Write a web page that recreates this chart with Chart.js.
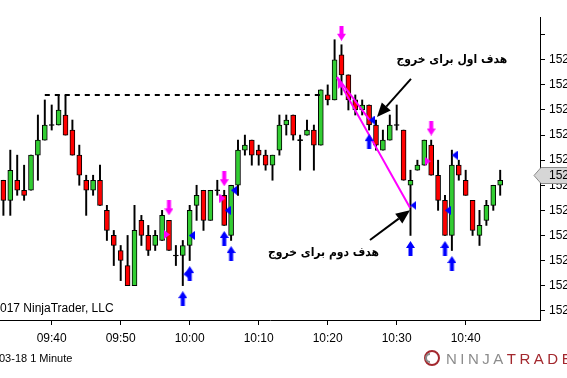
<!DOCTYPE html>
<html>
<head>
<meta charset="utf-8">
<script src="https://cdn.jsdelivr.net/npm/chart.js@4.4.0/dist/chart.umd.min.js"></script>
<style>
    html, body { margin: 0; padding: 0; background: #fff; overflow: hidden; }
    #chart-wrap { width: 567px; height: 378px; }
</style>
</head>
<body>
<div id="chart-wrap"><canvas id="price-chart" width="567" height="378"></canvas></div>
<script>
// one candle per minute, 09:33 -> 10:45
const times = ['09:33', '09:34', '09:35', '09:36', '09:37', '09:38', '09:39', '09:40', '09:41', '09:42',
    '09:43', '09:44', '09:45', '09:46', '09:47', '09:48', '09:49', '09:50', '09:51', '09:52',
    '09:53', '09:54', '09:55', '09:56', '09:57', '09:58', '09:59', '10:00', '10:01', '10:02',
    '10:03', '10:04', '10:05', '10:06', '10:07', '10:08', '10:09', '10:10', '10:11', '10:12',
    '10:13', '10:14', '10:15', '10:16', '10:17', '10:18', '10:19', '10:20', '10:21', '10:22',
    '10:23', '10:24', '10:25', '10:26', '10:27', '10:28', '10:29', '10:30', '10:31', '10:32',
    '10:33', '10:34', '10:35', '10:36', '10:37', '10:38', '10:39', '10:40', '10:41', '10:42',
    '10:43', '10:44', '10:45'];

const opens = [152.26, 152.22, 152.26, 152.24, 152.24, 152.31, 152.34, 152.37, 152.37, 152.39,
    152.36, 152.31, 152.26, 152.24, 152.26, 152.20, 152.15, 152.12, 152.09, 152.05,
    152.18, 152.15, 152.13, 152.14, 152.18, 152.11, 152.11, 152.13, 152.21, 152.24,
    152.18, 152.24, 152.23, 152.15, 152.25, 152.32, 152.34, 152.32, 152.31, 152.29,
    152.32, 152.37, 152.39, 152.34, 152.35, 152.36, 152.33, 152.43, 152.42, 152.51,
    152.47, 152.42, 152.40, 152.41, 152.37, 152.32, 152.34, 152.37, 152.36, 152.25,
    152.28, 152.29, 152.33, 152.27, 152.22, 152.15, 152.29, 152.26, 152.22, 152.15,
    152.18, 152.21, 152.25];
const highs = [152.26, 152.32, 152.31, 152.29, 152.31, 152.39, 152.42, 152.41, 152.43, 152.43,
    152.38, 152.33, 152.27, 152.27, 152.29, 152.21, 152.16, 152.13, 152.15, 152.21,
    152.19, 152.17, 152.16, 152.20, 152.18, 152.13, 152.14, 152.21, 152.25, 152.24,
    152.24, 152.26, 152.24, 152.25, 152.34, 152.35, 152.34, 152.33, 152.32, 152.31,
    152.39, 152.39, 152.39, 152.35, 152.38, 152.37, 152.44, 152.45, 152.54, 152.53,
    152.47, 152.43, 152.42, 152.41, 152.38, 152.36, 152.39, 152.41, 152.36, 152.28,
    152.30, 152.34, 152.34, 152.30, 152.23, 152.32, 152.30, 152.28, 152.22, 152.20,
    152.22, 152.25, 152.28];
const lows = [152.19, 152.19, 152.23, 152.22, 152.24, 152.26, 152.34, 152.36, 152.37, 152.35,
    152.31, 152.25, 152.19, 152.23, 152.21, 152.14, 152.09, 152.06, 152.05, 152.05,
    152.13, 152.11, 152.12, 152.14, 152.12, 152.09, 152.05, 152.10, 152.18, 152.16,
    152.18, 152.23, 152.17, 152.14, 152.23, 152.31, 152.29, 152.29, 152.28, 152.26,
    152.31, 152.35, 152.34, 152.28, 152.35, 152.28, 152.33, 152.41, 152.42, 152.43,
    152.40, 152.39, 152.39, 152.36, 152.32, 152.32, 152.34, 152.36, 152.26, 152.15,
    152.28, 152.29, 152.27, 152.20, 152.15, 152.12, 152.26, 152.23, 152.15, 152.13,
    152.17, 152.20, 152.23];
const closes = [152.22, 152.28, 152.24, 152.23, 152.31, 152.34, 152.37, 152.37, 152.40, 152.35,
    152.31, 152.27, 152.24, 152.26, 152.21, 152.16, 152.13, 152.10, 152.05, 152.16,
    152.15, 152.12, 152.15, 152.19, 152.12, 152.11, 152.13, 152.20, 152.23, 152.18,
    152.24, 152.24, 152.17, 152.25, 152.32, 152.33, 152.31, 152.31, 152.29, 152.31,
    152.37, 152.38, 152.35, 152.34, 152.36, 152.33, 152.44, 152.42, 152.50, 152.47,
    152.42, 152.40, 152.41, 152.37, 152.33, 152.34, 152.37, 152.37, 152.26, 152.26,
    152.29, 152.34, 152.27, 152.22, 152.15, 152.29, 152.27, 152.23, 152.16, 152.17,
    152.21, 152.25, 152.26];
const last_price = 152.27;

const x_tick_labels = ['09:40', '09:50', '10:00', '10:10', '10:20', '10:30', '10:40'];
const y_tick_values = [152.00, 152.05, 152.10, 152.15, 152.20, 152.25, 152.30, 152.35, 152.40, 152.45, 152.50, 152.55];
const y_tick_labels = ['152', '152', '152', '152', '152', '152', '152', '152', '152', '152', '152', ''];

// signal markers (x = candle index, y = price)
const buy_arrow_x = [26, 27, 32, 33, 53, 59, 64, 65];
const buy_arrow_y = [152.024, 152.074, 152.144, 152.114, 152.337, 152.124, 152.124, 152.094];
const buy_exit_x = [26.5, 27.3, 32.5, 33.4, 53.4, 59.4, 64.4, 65.4];
const buy_exit_y = [152.073, 152.15, 152.2, 152.24, 152.38, 152.21, 152.2, 152.31];
const sell_arrow_x = [24, 32, 49, 62];
const sell_arrow_y = [152.205, 152.263, 152.553, 152.364];
const sell_entry_x = [23.7, 31.75, 48.9, 61.5];
const sell_entry_y = [152.152, 152.224, 152.451, 152.298];

// drawn lines
const resistance_level = 152.43;
const resistance_from = '09:39';
const resistance_to = '10:19';
const target_line_1 = [[48.35, 152.466], [53.1, 152.38]];
const target_line_2 = [[48.35, 152.464], [58.93, 152.205]];

// text notes with arrows
const note_texts = ['هدف اول برای خروج', 'هدف دوم برای خروج'];
const note_text_at = [[65.0, 152.499], [46.4, 152.115]];
const note_arrow_from = [[59.07, 152.462], [53.13, 152.141]];
const note_arrow_to = [[54.14, 152.386], [58.93, 152.20]];

const up_color = '#32cd32';
const down_color = '#ff0000';

function arrow_image(color, down) {
    const c = document.createElement('canvas');
    c.width = 9;
    c.height = 15;
    const g = c.getContext('2d');
    if (down) {
        g.translate(0, 15);
        g.scale(1, -1);
    }
    g.fillStyle = color;
    g.beginPath();
    g.moveTo(4.5, 0);
    g.lineTo(9, 7);
    g.lineTo(6.5, 7);
    g.lineTo(6.5, 15);
    g.lineTo(2.5, 15);
    g.lineTo(2.5, 7);
    g.lineTo(0, 7);
    g.closePath();
    g.fill();
    return c;
}

function triangle_image(color, left) {
    const c = document.createElement('canvas');
    c.width = 6;
    c.height = 9;
    const g = c.getContext('2d');
    g.fillStyle = color;
    g.beginPath();
    if (left) {
        g.moveTo(0, 4.5);
        g.lineTo(6, 0);
        g.lineTo(6, 9);
    } else {
        g.moveTo(6, 4.5);
        g.lineTo(0, 0);
        g.lineTo(0, 9);
    }
    g.closePath();
    g.fill();
    return c;
}

function points(xs, ys) {
    return xs.map((x, i) => ({ x: x, y: ys[i] }));
}

function draw_arrow(ctx, x1, y1, x2, y2) {
    const a = Math.atan2(y2 - y1, x2 - x1);
    const head = 14;
    const half = 6;
    const bx = x2 - Math.cos(a) * head;
    const by = y2 - Math.sin(a) * head;
    ctx.strokeStyle = '#000';
    ctx.lineWidth = 2;
    ctx.beginPath();
    ctx.moveTo(x1, y1);
    ctx.lineTo(bx, by);
    ctx.stroke();
    ctx.fillStyle = '#000';
    ctx.beginPath();
    ctx.moveTo(x2, y2);
    ctx.lineTo(bx + Math.sin(a) * half, by - Math.cos(a) * half);
    ctx.lineTo(bx - Math.sin(a) * half, by + Math.cos(a) * half);
    ctx.closePath();
    ctx.fill();
}

const overlay = {
    id: 'overlay',
    afterDatasetsDraw(chart) {
        const ctx = chart.ctx;
        const xs = chart.scales.x;
        const ys = chart.scales.y;
        ctx.save();
        for (let i = 0; i < note_texts.length; i++) {
            draw_arrow(ctx,
                xs.getPixelForValue(note_arrow_from[i][0]), ys.getPixelForValue(note_arrow_from[i][1]),
                xs.getPixelForValue(note_arrow_to[i][0]), ys.getPixelForValue(note_arrow_to[i][1]));
            ctx.font = 'bold 12px "DejaVu Sans Condensed", "DejaVu Sans"';
            ctx.fillStyle = '#000';
            ctx.textAlign = 'center';
            ctx.textBaseline = 'middle';
            ctx.direction = 'rtl';
            ctx.fillText(note_texts[i], xs.getPixelForValue(note_text_at[i][0]), ys.getPixelForValue(note_text_at[i][1]));
        }
        ctx.restore();
    },
    afterDraw(chart) {
        const ctx = chart.ctx;
        const area = chart.chartArea;
        const ys = chart.scales.y;
        ctx.save();

        // last price marker on the price axis
        const py = Math.round(ys.getPixelForValue(last_price)) + 0.5;
        ctx.beginPath();
        ctx.moveTo(area.right - 6, py);
        ctx.lineTo(area.right + 1, py - 8);
        ctx.lineTo(area.right + 28, py - 8);
        ctx.lineTo(area.right + 28, py + 8);
        ctx.lineTo(area.right + 1, py + 8);
        ctx.closePath();
        ctx.fillStyle = '#d6d6d6';
        ctx.fill();
        ctx.strokeStyle = '#8c8c8c';
        ctx.lineWidth = 1;
        ctx.stroke();
        ctx.fillStyle = '#000';
        ctx.font = '12px "Liberation Sans"';
        ctx.textBaseline = 'middle';
        ctx.textAlign = 'left';
        ctx.fillText('152', area.right + 9, py);

        // copyright + instrument line
        ctx.textBaseline = 'alphabetic';
        const copy = '© 2017 NinjaTrader, LLC';
        const cut = ctx.measureText('© 2').width;
        ctx.fillText(copy, -cut, 312);
        ctx.font = '11px "Liberation Sans"';
        ctx.fillText('03-18 1 Minute', -1, 362);

        // logo
        ctx.lineWidth = 2;
        ctx.strokeStyle = '#a3282e';
        ctx.beginPath();
        ctx.arc(432, 358, 7, 0, Math.PI * 2);
        ctx.stroke();
        ctx.strokeStyle = '#8a8a8a';
        ctx.beginPath();
        ctx.arc(430, 358, 4, Math.PI * 0.5, Math.PI * 1.5);
        ctx.stroke();
        ctx.font = '15px "Liberation Sans"';
        ctx.letterSpacing = '3.5px';
        ctx.fillStyle = '#8c8c8c';
        ctx.fillText('NINJA', 446, 364);
        const w = ctx.measureText('NINJA').width;
        ctx.fillStyle = '#a3282e';
        ctx.fillText('TRADER', 446 + w, 364);
        ctx.restore();
    }
};

onload = () => {
    const body_data = times.map((t, i) => ({
        x: i,
        y: opens[i] == closes[i] ? [opens[i] - 0.001, opens[i] + 0.001] : [opens[i], closes[i]]
    }));
    const body_colors = times.map((t, i) => closes[i] > opens[i] ? up_color : (closes[i] < opens[i] ? down_color : '#000'));
    const wick_data = times.map((t, i) => ({ x: i, y: [lows[i], highs[i]] }));

    new Chart(document.getElementById('price-chart'), {
        type: 'bar',
        data: {
            datasets: [
                {
                    data: wick_data,
                    backgroundColor: '#000',
                    borderWidth: 0,
                    barThickness: 1.3,
                    grouped: false,
                    order: 6
                },
                {
                    data: body_data,
                    backgroundColor: body_colors,
                    borderColor: '#000',
                    borderWidth: 1,
                    borderSkipped: false,
                    barThickness: 5,
                    grouped: false,
                    order: 5
                },
                {
                    type: 'line',
                    data: [
                        { x: times.indexOf(resistance_from), y: resistance_level },
                        { x: times.indexOf(resistance_to), y: resistance_level }
                    ],
                    borderColor: '#000',
                    borderWidth: 2,
                    borderDash: [5, 5],
                    pointRadius: 0,
                    order: 4
                },
                {
                    type: 'line',
                    data: target_line_1.map(p => ({ x: p[0], y: p[1] })),
                    borderColor: '#ff00ff',
                    borderWidth: 2,
                    pointRadius: 0,
                    order: 3
                },
                {
                    type: 'line',
                    data: target_line_2.map(p => ({ x: p[0], y: p[1] })),
                    borderColor: '#ff00ff',
                    borderWidth: 2,
                    pointRadius: 0,
                    order: 3
                },
                {
                    type: 'scatter',
                    data: points(buy_arrow_x, buy_arrow_y),
                    pointStyle: arrow_image('#0000ff', false),
                    pointRadius: 5,
                    order: 1
                },
                {
                    type: 'scatter',
                    data: points(buy_exit_x, buy_exit_y),
                    pointStyle: triangle_image('#0000ff', true),
                    pointRadius: 5,
                    order: 1
                },
                {
                    type: 'scatter',
                    data: points(sell_arrow_x, sell_arrow_y),
                    pointStyle: arrow_image('#ff00ff', true),
                    pointRadius: 5,
                    order: 1
                },
                {
                    type: 'scatter',
                    data: points(sell_entry_x, sell_entry_y),
                    pointStyle: triangle_image('#ff00ff', false),
                    pointRadius: 5,
                    order: 1
                }
            ]
        },
        options: {
            responsive: false,
            devicePixelRatio: 1,
            animation: false,
            events: [],
            layout: {
                autoPadding: false,
                padding: { top: 17, left: 0, right: 0, bottom: 0 }
            },
            plugins: {
                legend: { display: false },
                tooltip: { enabled: false }
            },
            scales: {
                x: {
                    type: 'linear',
                    position: 'bottom',
                    offset: false,
                    min: -0.493,
                    max: 77.77,
                    afterFit: s => { s.height = 58; },
                    afterBuildTicks: s => { s.ticks = x_tick_labels.map(l => ({ value: times.indexOf(l) })); },
                    border: { color: '#000', width: 1 },
                    grid: { offset: false, drawOnChartArea: false, drawTicks: true, tickLength: 5, color: '#000' },
                    ticks: {
                        autoSkip: false,
                        maxRotation: 0,
                        padding: 6,
                        color: '#000',
                        font: { family: 'Liberation Sans', size: 12 },
                        callback: v => times[v]
                    }
                },
                y: {
                    type: 'linear',
                    position: 'right',
                    min: 151.9815,
                    max: 152.5853,
                    afterFit: s => { s.width = 27; },
                    afterBuildTicks: s => { s.ticks = y_tick_values.map(v => ({ value: v })); },
                    border: { color: '#000', width: 1 },
                    grid: { drawOnChartArea: false, drawTicks: true, tickLength: 5, color: '#000' },
                    ticks: {
                        autoSkip: false,
                        padding: 4,
                        color: '#000',
                        font: { family: 'Liberation Sans', size: 12 },
                        callback: (v, i) => y_tick_labels[i]
                    }
                }
            }
        },
        plugins: [overlay]
    });
}
</script>
</body>
</html>
